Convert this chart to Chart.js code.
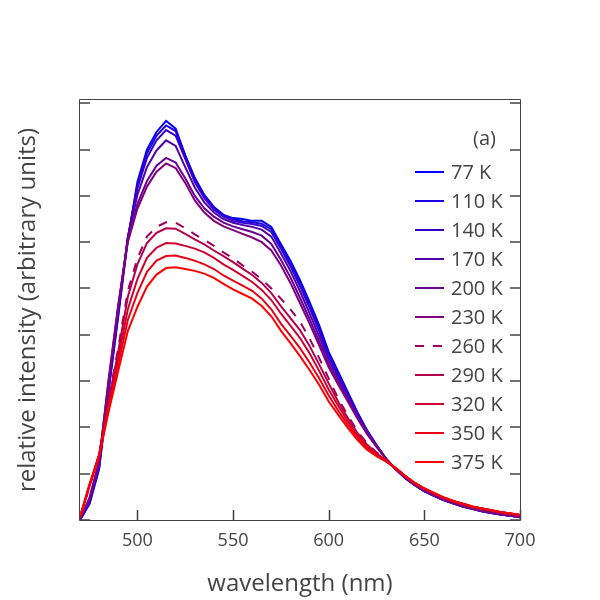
<!DOCTYPE html>
<html>
<head>
<meta charset="utf-8">
<script src="https://cdn.jsdelivr.net/npm/chart.js@4/dist/chart.umd.min.js"></script>
<style>
html,body{margin:0;padding:0;background:#fff;}
#wrap{width:600px;height:600px;}
</style>
</head>
<body>
<div id="wrap"><canvas id="c" width="600" height="600"></canvas></div>
<script>
// ---------- data ----------
const WAVELENGTH = [470,475,480,485,490,495,500,505,510,515,520,525,530,535,540,545,550,555,560,565,570,575,580,585,590,595,600,605,610,615,620,625,630,635,640,645,650,655,660,665,670,675,680,685,690,695,700];

const T77  = [0.00,0.35,1.10,2.80,4.40,6.05,7.30,8.00,8.38,8.62,8.45,7.88,7.39,7.02,6.76,6.59,6.52,6.50,6.46,6.46,6.33,5.96,5.60,5.18,4.71,4.21,3.63,3.20,2.76,2.33,1.94,1.62,1.32,1.10,0.90,0.75,0.62,0.52,0.43,0.36,0.29,0.24,0.19,0.15,0.12,0.09,0.06];
const T110 = [0.00,0.37,1.14,2.85,4.45,6.08,7.24,7.92,8.30,8.52,8.40,7.86,7.36,7.00,6.74,6.58,6.50,6.45,6.43,6.40,6.28,5.92,5.54,5.12,4.65,4.15,3.58,3.16,2.73,2.31,1.93,1.61,1.32,1.10,0.90,0.75,0.62,0.52,0.43,0.36,0.29,0.24,0.19,0.15,0.12,0.09,0.06];
const T140 = [0.01,0.40,1.18,2.90,4.50,6.10,7.16,7.82,8.20,8.42,8.30,7.80,7.30,6.95,6.70,6.55,6.46,6.42,6.39,6.35,6.22,5.86,5.48,5.05,4.58,4.08,3.52,3.11,2.70,2.28,1.92,1.61,1.32,1.10,0.91,0.76,0.63,0.52,0.43,0.36,0.29,0.24,0.19,0.15,0.12,0.09,0.06];
const T170 = [0.02,0.43,1.22,2.96,4.56,6.10,7.02,7.62,7.98,8.20,8.08,7.62,7.18,6.86,6.64,6.50,6.42,6.37,6.33,6.27,6.12,5.76,5.38,4.94,4.46,3.97,3.44,3.04,2.65,2.25,1.90,1.60,1.32,1.10,0.91,0.76,0.63,0.53,0.44,0.36,0.30,0.24,0.20,0.16,0.12,0.09,0.07];
const T200 = [0.02,0.46,1.26,3.02,4.62,6.05,6.82,7.32,7.65,7.82,7.72,7.38,7.00,6.73,6.55,6.42,6.34,6.28,6.22,6.14,5.96,5.62,5.24,4.80,4.34,3.86,3.36,2.97,2.60,2.22,1.88,1.59,1.32,1.10,0.91,0.76,0.63,0.53,0.44,0.37,0.30,0.25,0.20,0.16,0.12,0.09,0.07];
const T230 = [0.03,0.48,1.28,3.05,4.65,6.00,6.72,7.20,7.52,7.70,7.60,7.28,6.90,6.64,6.46,6.34,6.26,6.18,6.10,6.00,5.82,5.50,5.12,4.68,4.24,3.77,3.30,2.92,2.56,2.19,1.86,1.58,1.32,1.10,0.92,0.77,0.64,0.54,0.44,0.37,0.30,0.25,0.20,0.16,0.13,0.10,0.07];
const T260 = [0.05,0.72,1.42,2.62,3.72,4.95,5.65,6.12,6.33,6.43,6.42,6.30,6.17,6.05,5.92,5.78,5.65,5.50,5.36,5.20,5.00,4.78,4.55,4.28,3.92,3.50,3.06,2.62,2.26,1.92,1.66,1.46,1.30,1.12,0.95,0.80,0.68,0.58,0.49,0.41,0.35,0.29,0.25,0.21,0.17,0.14,0.11];
const T290 = [0.05,0.74,1.42,2.58,3.64,4.82,5.52,5.98,6.20,6.30,6.29,6.18,6.06,5.95,5.82,5.70,5.57,5.43,5.29,5.12,4.90,4.62,4.36,4.10,3.76,3.36,2.95,2.55,2.20,1.88,1.63,1.44,1.29,1.12,0.95,0.80,0.68,0.58,0.49,0.41,0.35,0.29,0.25,0.21,0.17,0.14,0.11];
const T320 = [0.06,0.75,1.40,2.50,3.50,4.55,5.20,5.66,5.88,5.98,5.97,5.92,5.86,5.78,5.66,5.52,5.40,5.27,5.14,4.97,4.75,4.46,4.20,3.93,3.60,3.22,2.82,2.46,2.13,1.83,1.59,1.42,1.28,1.12,0.95,0.80,0.68,0.58,0.49,0.41,0.35,0.29,0.25,0.21,0.17,0.14,0.11];
const T350 = [0.06,0.76,1.40,2.42,3.36,4.32,4.90,5.36,5.60,5.70,5.71,5.66,5.60,5.52,5.42,5.28,5.17,5.06,4.95,4.78,4.55,4.24,3.98,3.71,3.40,3.06,2.69,2.36,2.06,1.78,1.55,1.40,1.27,1.12,0.95,0.80,0.68,0.58,0.49,0.41,0.35,0.29,0.25,0.21,0.17,0.14,0.11];
const T375 = [0.07,0.78,1.38,2.35,3.22,4.08,4.60,5.04,5.30,5.44,5.46,5.42,5.38,5.32,5.23,5.10,4.98,4.88,4.78,4.62,4.40,4.09,3.82,3.54,3.24,2.92,2.56,2.27,1.99,1.73,1.52,1.38,1.26,1.12,0.95,0.80,0.68,0.58,0.49,0.41,0.35,0.29,0.25,0.21,0.17,0.14,0.11];

const SERIES = [T77, T110, T140, T170, T200, T230, T260, T290, T320, T350, T375];
const SERIES_LABELS = ['77 K','110 K','140 K','170 K','200 K','230 K','260 K','290 K','320 K','350 K','375 K'];
const SERIES_COLORS = ['rgb(0,0,255)','rgb(28,0,227)','rgb(54,0,201)','rgb(80,0,175)','rgb(105,0,150)','rgb(131,0,124)','rgb(157,0,98)','rgb(182,0,73)','rgb(208,0,47)','rgb(234,0,21)','rgb(255,0,0)'];
const SERIES_DASHED = [false,false,false,false,false,false,true,false,false,false,false];

const X_TICKS = [500,550,600,650,700];
const Y_TICKS = [0,1,2,3,4,5,6,7,8,9];
const X_TITLE = 'wavelength (nm)';
const Y_TITLE = 'relative intensity (arbitrary units)';
const PANEL_LABEL = '(a)';

// ---------- style ----------
const FONT = '"Open Sans", "Noto Sans", sans-serif';
const INK = '#444';
const DASH = [9, 9];

const datasets = SERIES.map((vals, i) => ({
  label: SERIES_LABELS[i],
  data: WAVELENGTH.map((w, j) => ({x: w, y: vals[j]})),
  borderColor: SERIES_COLORS[i],
  backgroundColor: SERIES_COLORS[i],
  borderWidth: 2,
  borderDash: SERIES_DASHED[i] ? DASH : [],
  pointRadius: 0,
  tension: 0,
  fill: false,
  order: SERIES.length - 1 - i
}));

const frameTicks = {
  id: 'frameTicks',
  afterDatasetsDraw(chart) {
    const {ctx, chartArea: {left, right, top, bottom}, scales: {x, y}} = chart;
    ctx.save();
    ctx.strokeStyle = INK;
    ctx.lineWidth = 1;
    ctx.beginPath();
    ctx.moveTo(left - 0.5, top - 0.5); ctx.lineTo(right + 0.5, top - 0.5);
    ctx.lineTo(right + 0.5, bottom + 0.5); ctx.lineTo(left - 0.5, bottom + 0.5);
    ctx.closePath();
    ctx.stroke();
    ctx.lineWidth = 1.5;
    ctx.beginPath();
    y.ticks.forEach(t => {
      const py = Math.round(y.getPixelForValue(t.value));
      ctx.moveTo(left, py); ctx.lineTo(left + 10, py);
      ctx.moveTo(right - 10, py); ctx.lineTo(right, py);
    });
    x.ticks.forEach(t => {
      const px = Math.round(x.getPixelForValue(t.value)) + 0.5;
      ctx.moveTo(px, bottom); ctx.lineTo(px, bottom - 10);
    });
    ctx.stroke();
    ctx.restore();
  }
};

const insideLegend = {
  id: 'insideLegend',
  afterDraw(chart) {
    const {ctx, chartArea: {top, right}} = chart;
    ctx.save();
    ctx.font = '20px ' + FONT;
    ctx.textBaseline = 'middle';
    ctx.textAlign = 'left';
    ctx.fillStyle = INK;
    ctx.fillText(PANEL_LABEL, right - 47, top + 39);
    chart.data.datasets.forEach((ds, i) => {
      const cy = top + 72 + i * 29;
      ctx.strokeStyle = ds.borderColor;
      ctx.lineWidth = 2;
      ctx.setLineDash(ds.borderDash || []);
      ctx.beginPath();
      ctx.moveTo(right - 105, cy); ctx.lineTo(right - 76, cy);
      ctx.stroke();
      ctx.setLineDash([]);
      ctx.fillStyle = INK;
      ctx.fillText(ds.label, right - 69, cy + 1);
    });
    ctx.restore();
  }
};

new Chart(document.getElementById('c'), {
  type: 'line',
  data: {datasets},
  options: {
    responsive: false,
    animation: false,
    devicePixelRatio: 1,
    layout: {padding: {top: 100, right: 80, bottom: 0, left: 0}},
    plugins: {legend: {display: false}, tooltip: {enabled: false}},
    scales: {
      x: {
        type: 'linear', min: 470, max: 700,
        afterBuildTicks: s => { s.ticks = X_TICKS.map(v => ({value: v})); },
        grid: {display: false, drawTicks: false},
        border: {display: false},
        ticks: {color: INK, font: {family: FONT, size: 18}, padding: 10, maxRotation: 0, autoSkip: false},
        title: {display: true, text: X_TITLE, color: INK, font: {family: FONT, size: 24}, padding: {top: 0, bottom: 1}},
        afterFit: s => { s.height = 80; }
      },
      y: {
        type: 'linear', min: 0, max: 9.07,
        afterBuildTicks: s => { s.ticks = Y_TICKS.map(v => ({value: v})); },
        grid: {display: false, drawTicks: false},
        border: {display: false},
        ticks: {display: false},
        title: {display: true, text: Y_TITLE, color: INK, font: {family: FONT, size: 24}, padding: {top: 14, bottom: 0}},
        afterFit: s => { s.width = 80; }
      }
    }
  },
  plugins: [frameTicks, insideLegend]
});
</script>
</body>
</html>
